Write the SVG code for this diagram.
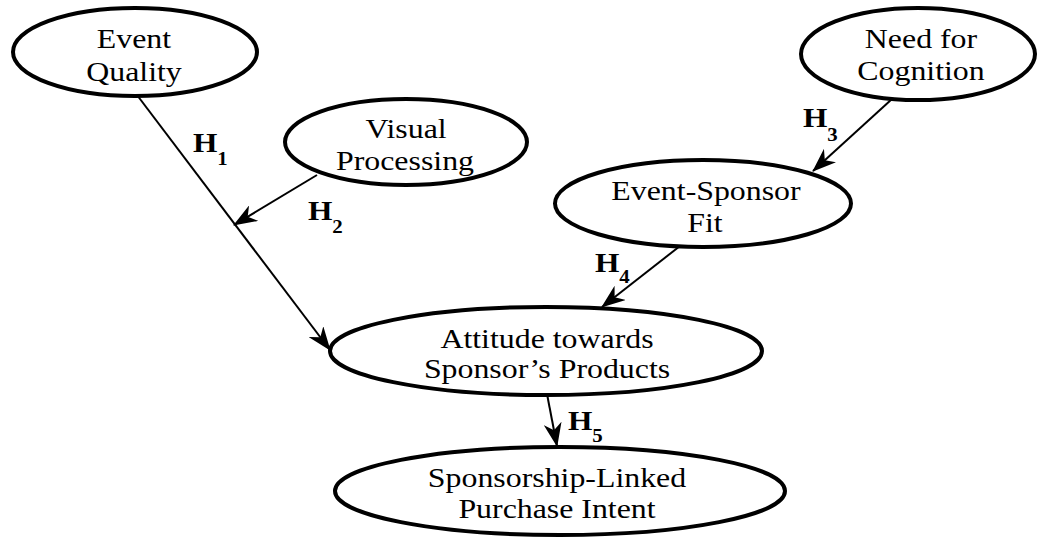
<svg xmlns="http://www.w3.org/2000/svg" width="1037" height="537" viewBox="0 0 1037 537">
<style>
.n ellipse{fill:#fff;stroke:#000;stroke-width:4}
.n text{font-family:"Liberation Serif","Times New Roman",serif;font-size:27px;text-anchor:middle;fill:#000}
.c line{stroke:#000;stroke-width:2;marker-end:url(#ah)}
.h{font-family:"Liberation Serif","Times New Roman",serif;font-weight:bold;font-size:27px;fill:#000}
.s{font-size:18px}
</style>
<defs>
<marker id="ah" viewBox="0 0 24 18" refX="23" refY="9" markerWidth="24" markerHeight="18" markerUnits="userSpaceOnUse" orient="auto">
<path d="M0,0 L24,9 L0,18 L7,9 z" fill="#000"/>
</marker>
</defs>
<g id="connectors" class="c">
<line x1="137" y1="95" x2="330" y2="350"/>
<line x1="317" y1="175" x2="234" y2="225"/>
<line x1="892" y1="99" x2="813" y2="171"/>
<line x1="680" y1="246" x2="602" y2="307"/>
<line x1="547" y1="394" x2="557" y2="446"/>
</g>
<g id="labels">
<text class="h" transform="translate(193 152) scale(1.16 1)">H<tspan class="s" dy="13">1</tspan></text>
<text class="h" transform="translate(308 220) scale(1.16 1)">H<tspan class="s" dy="13">2</tspan></text>
<text class="h" transform="translate(803 127) scale(1.16 1)">H<tspan class="s" dy="14">3</tspan></text>
<text class="h" transform="translate(595 272) scale(1.16 1)">H<tspan class="s" dy="11">4</tspan></text>
<text class="h" transform="translate(568 430) scale(1.16 1)">H<tspan class="s" dy="12">5</tspan></text>
</g>
<g id="event-quality" class="n">
<ellipse cx="135" cy="52" rx="122" ry="44"/>
<text transform="translate(134 48) scale(1.18 1)">Event</text>
<text transform="translate(134 81) scale(1.18 1)">Quality</text>
</g>
<g id="visual-processing" class="n">
<ellipse cx="406" cy="142" rx="121" ry="43"/>
<text transform="translate(406 138) scale(1.18 1)">Visual</text>
<text transform="translate(405 170) scale(1.18 1)">Processing</text>
</g>
<g id="need-for-cognition" class="n">
<ellipse cx="918" cy="54" rx="117" ry="46"/>
<text transform="translate(921 48) scale(1.18 1)">Need for</text>
<text transform="translate(921 80) scale(1.18 1)">Cognition</text>
</g>
<g id="event-sponsor-fit" class="n">
<ellipse cx="703" cy="203.5" rx="148" ry="43.5"/>
<text transform="translate(706 200) scale(1.18 1)">Event-Sponsor</text>
<text transform="translate(705 232) scale(1.18 1)">Fit</text>
</g>
<g id="attitude" class="n">
<ellipse cx="546" cy="351" rx="216" ry="44"/>
<text transform="translate(547 348) scale(1.18 1)">Attitude towards</text>
<text transform="translate(547 378) scale(1.18 1)">Sponsor’s Products</text>
</g>
<g id="purchase-intent" class="n">
<ellipse cx="560" cy="491" rx="225" ry="44"/>
<text transform="translate(557 487) scale(1.18 1)">Sponsorship-Linked</text>
<text transform="translate(557 518) scale(1.18 1)">Purchase Intent</text>
</g>
</svg>
